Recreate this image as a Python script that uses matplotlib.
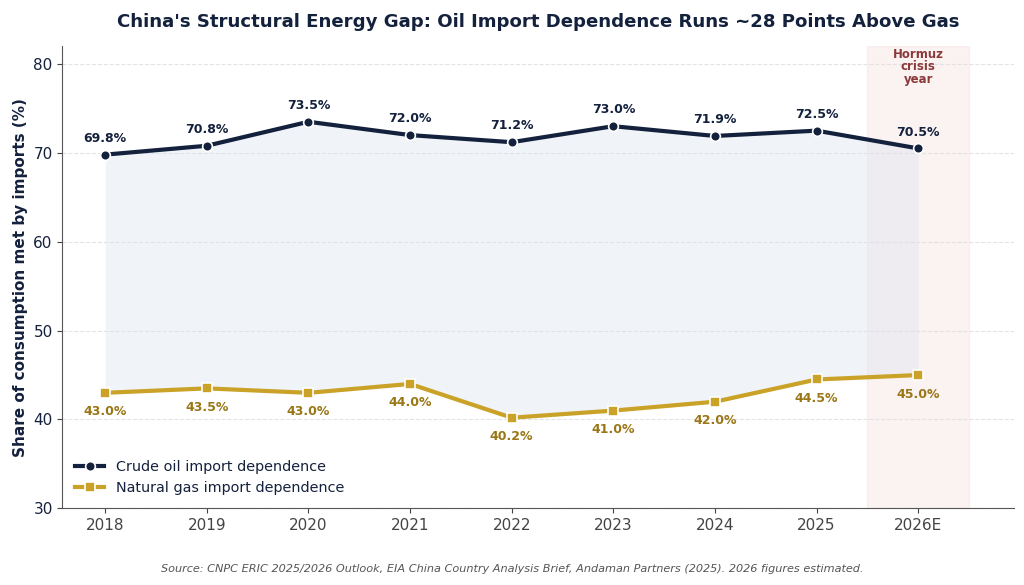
import matplotlib.pyplot as plt
import numpy as np

years = ["2018", "2019", "2020", "2021", "2022", "2023", "2024", "2025", "2026E"]
oil = [69.8, 70.8, 73.5, 72.0, 71.2, 73.0, 71.9, 72.5, 70.5]
gas = [43.0, 43.5, 43.0, 44.0, 40.2, 41.0, 42.0, 44.5, 45.0]

navy = "#14213d"
gold = "#c9a227"
gold_txt = "#9a7716"

fig, ax = plt.subplots(figsize=(10.24, 5.85), dpi=100)
fig.subplots_adjust(left=0.061, right=0.99, top=0.921, bottom=0.131)

x = np.arange(len(years))

# shaded gap between the two series
ax.fill_between(x, gas, oil, color="#dbe3ee", alpha=0.4, linewidth=0, zorder=1)

# crisis year highlight
ax.axvspan(7.5, 8.5, color="#f4d4d4", alpha=0.3, zorder=0)
ax.text(8, 81.8, "Hormuz\ncrisis\nyear", ha="center", va="top", fontsize=8.5,
        fontweight="bold", color="#8b3a3a", linespacing=0.95)

ax.plot(x, oil, "-o", color=navy, lw=3, ms=7, mec="white", mew=1.2,
        label="Crude oil import dependence", zorder=3)
ax.plot(x, gas, "-s", color=gold, lw=3, ms=7, mec="white", mew=1.2,
        label="Natural gas import dependence", zorder=3)

for xi, v in zip(x, oil):
    ax.annotate(f"{v:.1f}%", (xi, v), xytext=(0, 7), textcoords="offset points",
                ha="center", va="bottom", fontsize=9, fontweight="bold", color=navy)
for xi, v in zip(x, gas):
    ax.annotate(f"{v:.1f}%", (xi, v), xytext=(0, -9), textcoords="offset points",
                ha="center", va="top", fontsize=9, fontweight="bold", color=gold_txt)

ax.set_xticks(x)
ax.set_xticklabels(years)
ax.set_xlim(-0.42, 8.94)
ax.set_ylim(30, 82)
ax.set_yticks([30, 40, 50, 60, 70, 80])
ax.tick_params(axis="both", labelsize=11, colors="#444444")
ax.tick_params(axis="y", labelcolor=navy)
ax.grid(axis="y", linestyle="--", color="#dddddd", alpha=0.8)
ax.set_axisbelow(True)

for s in ["top", "right"]:
    ax.spines[s].set_visible(False)
for s in ["left", "bottom"]:
    ax.spines[s].set_color("#555555")

ax.set_ylabel("Share of consumption met by imports (%)", fontsize=11,
              fontweight="bold", color=navy)
ax.set_title("China's Structural Energy Gap: Oil Import Dependence Runs ~28 Points Above Gas",
             fontsize=13.1, fontweight="bold", color=navy, pad=14)

ax.legend(loc="lower left", frameon=False, fontsize=10.4, labelcolor=navy)

fig.text(0.5, 0.022, "Source: CNPC ERIC 2025/2026 Outlook, EIA China Country Analysis Brief, "
         "Andaman Partners (2025). 2026 figures estimated.",
         ha="center", fontsize=8.1, style="italic", color="#555555")

fig.savefig("out.png", dpi=100)
